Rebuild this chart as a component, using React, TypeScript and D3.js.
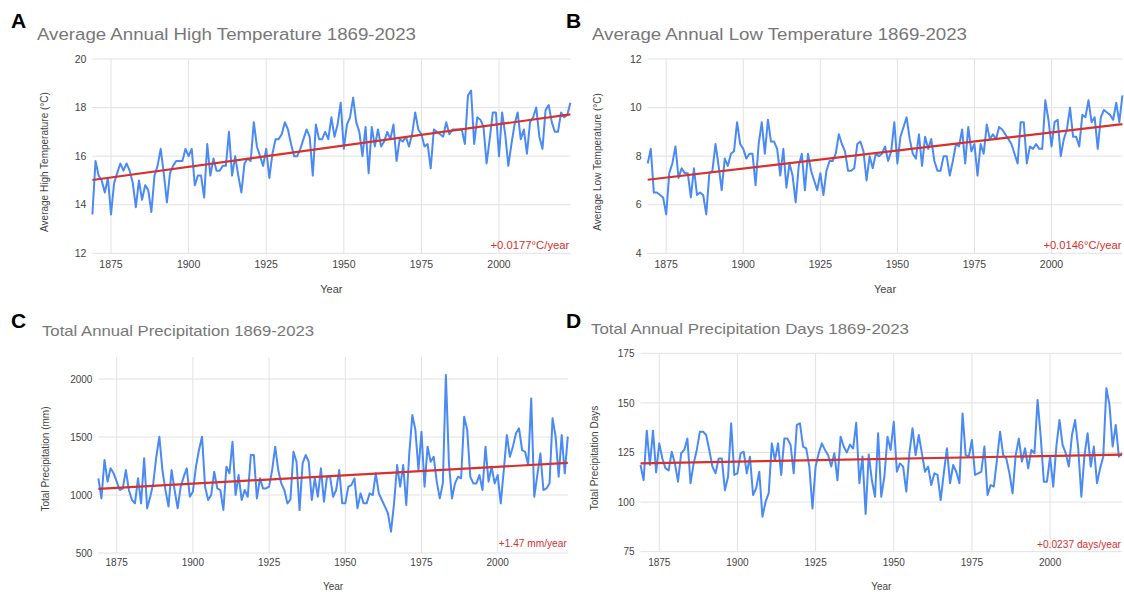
import React from 'react';
import * as d3 from 'd3';

// yearly series, 1869-2023
const years = d3.range(1869, 2024);

const highTemp = [
  13.6, 15.8, 15.2, 15.0, 14.5, 15.1, 13.6, 14.9, 15.3, 15.7,
  15.4, 15.7, 15.4, 14.9, 13.9, 15.0, 14.2, 14.8, 14.6, 13.7,
  15.2, 15.6, 16.3, 15.3, 14.1, 15.3, 15.6, 15.8, 15.8, 15.8,
  16.3, 16.0, 16.3, 14.8, 15.2, 15.2, 14.3, 16.5, 15.2, 15.9,
  15.4, 15.4, 15.6, 15.6, 17.0, 15.2, 16.0, 15.2, 14.5, 15.7,
  15.9, 15.8, 17.4, 16.4, 16.0, 15.6, 16.3, 15.1, 16.1, 16.7,
  16.7, 16.9, 17.4, 17.1, 16.5, 16.0, 16.0, 16.3, 16.7, 17.1,
  16.8, 15.2, 17.3, 16.7, 16.7, 17.0, 16.7, 17.6, 16.8, 17.3,
  18.2, 16.3, 17.3, 17.6, 18.4, 17.4, 17.0, 16.0, 17.2, 15.3,
  17.2, 16.4, 17.1, 16.4, 16.6, 17.0, 16.7, 17.3, 15.8, 16.7,
  16.6, 16.8, 16.4, 16.9, 17.8, 17.1, 16.9, 16.4, 16.5, 15.5,
  17.1, 17.0, 16.9, 16.8, 17.4, 16.9, 17.1, 17.1, 17.1, 17.1,
  16.5, 18.5, 18.7, 16.5, 17.6, 17.5, 17.2, 15.7, 16.7, 17.8,
  17.8, 16.0, 17.8, 16.9, 15.6, 16.5, 17.3, 17.8, 16.7, 17.1,
  16.1, 17.4, 17.6, 18.0, 16.8, 16.3, 17.9, 18.1, 17.4, 17.0,
  17.0, 17.8, 17.6, 17.7, 18.2,
];

const lowTemp = [
  7.7, 8.3, 6.5, 6.5, 6.4, 6.3, 5.6, 7.3, 7.7, 8.4,
  7.1, 7.5, 7.3, 7.3, 6.3, 7.5, 6.4, 6.5, 6.4, 5.6,
  7.3, 7.4, 8.5, 7.6, 6.6, 7.9, 7.6, 8.1, 8.2, 9.4,
  8.5, 8.3, 7.9, 8.1, 8.1, 6.8, 8.5, 9.4, 8.1, 9.5,
  8.6, 8.6, 8.3, 7.2, 8.3, 6.7, 7.7, 7.2, 6.1, 7.6,
  8.1, 6.6, 8.1, 7.4, 7.0, 6.6, 7.3, 6.4, 7.4, 7.8,
  7.8, 8.1, 8.9, 8.5, 8.2, 7.4, 7.4, 7.5, 8.5, 8.6,
  8.2, 7.0, 8.0, 7.5, 8.1, 8.0, 8.1, 8.4, 7.8, 8.2,
  9.4, 7.7, 8.8, 9.2, 9.6, 8.7, 8.1, 7.9, 8.9, 7.6,
  8.8, 8.3, 8.7, 7.8, 7.4, 7.4, 8.0, 8.0, 7.2, 7.8,
  8.5, 8.4, 9.1, 7.7, 9.2, 8.2, 8.5, 7.2, 8.5, 8.1,
  9.3, 8.7, 8.9, 8.7, 9.2, 9.1, 8.9, 8.7, 8.5, 8.1,
  7.7, 9.4, 9.4, 7.7, 8.4, 8.3, 8.5, 8.3, 8.3, 10.3,
  9.5, 8.4, 9.4, 9.5, 8.0, 8.7, 9.1, 10.0, 8.8, 8.8,
  8.4, 9.7, 9.6, 10.3, 9.4, 9.6, 8.3, 9.6, 9.9, 9.8,
  9.7, 9.5, 10.2, 9.4, 10.5,
];

const precip = [
  1144, 971, 1302, 1115, 1230, 1187, 1115, 1043, 1057, 1215,
  1043, 957, 928, 1144, 928, 1316, 885, 985, 1100, 1330,
  1503, 1215, 1043, 900, 1215, 1043, 885, 1072, 1158, 1230,
  985, 1029, 1244, 1388, 1503, 1072, 957, 1000, 1201, 1057,
  1043, 871, 1244, 1187, 1460, 1000, 1172, 957, 1043, 985,
  1345, 1345, 971, 1144, 1057, 1057, 1072, 1215, 1417, 1215,
  1100, 1043, 928, 960, 1373, 1287, 870, 1273, 1345, 1287,
  957, 1144, 985, 1230, 942, 1158, 1158, 985, 1043, 1215,
  928, 928, 1072, 1086, 1144, 885, 1014, 928, 928, 1014,
  1000, 1187, 1014, 957, 900, 842, 684, 928, 1258, 1072,
  1258, 914, 1359, 1690, 1560, 1215, 1546, 1072, 1417, 1287,
  1330, 1115, 971, 1100, 2034, 1273, 971, 1100, 1158, 1144,
  1675, 1560, 1158, 1100, 1100, 1172, 1043, 1417, 1115, 1244,
  1100, 1172, 928, 1215, 1517, 1330, 1417, 1532, 1575, 1388,
  1373, 1258, 1833, 985, 1172, 1359, 1043, 1057, 1100, 1661,
  1503, 1158, 1517, 1187, 1503,
];

const precipDays = [
  118.7, 111, 136, 118.7, 136, 115, 129.6, 122, 117, 116,
  125.4, 119.5, 110.3, 124.6, 126.3, 132, 109.5, 119.5, 126.3, 135.5,
  135.5, 133.8, 126.3, 117.9, 114.5, 122, 122, 106, 112.8, 139.7,
  113.7, 114.5, 124.6, 125.4, 114.5, 122.9, 103.6, 107, 115.3, 92.6,
  100.2, 104.4, 129.6, 121.2, 129.6, 113.7, 132, 132, 128.8, 114.5,
  138.9, 139.7, 128, 127.1, 117.9, 96.8, 117.9, 124.6, 129.6, 126.3,
  123.7, 117.9, 124.6, 111, 133, 128, 125, 129, 127, 140,
  109.5, 123, 94, 124, 111, 102.7, 134.7, 102.7, 112.8, 133,
  126.3, 140.5, 115.3, 119.5, 117.9, 105.3, 124.6, 137.2, 123.7, 133.8,
  124.6, 115.3, 117.9, 108.6, 114.5, 113.7, 101, 114.5, 127.1, 109.5,
  118.7, 115.3, 109.5, 144.7, 123.7, 122.9, 131.3, 113.7, 114.5, 115.3,
  128, 103.6, 108.6, 107.8, 121.2, 135.5, 123.7, 122, 114.5, 104.4,
  123.7, 132, 120.4, 127.1, 117, 126.3, 124.6, 151.5, 133, 110.3,
  110.3, 122.9, 107.8, 128, 141.4, 128.8, 124.6, 117.9, 133.8, 141.4,
  127.1, 102.7, 123.7, 134.7, 117.9, 128, 109.5, 117, 122.9, 157.4,
  149, 128, 138.9, 122.9, 124.6,
];

const yearTicks = [1875, 1900, 1925, 1950, 1975, 2000];
const highTicks = [12, 14, 16, 18, 20];
const lowTicks = [4, 6, 8, 10, 12];
const precipTicks = [500, 1000, 1500, 2000];
const daysTicks = [75, 100, 125, 150, 175];

const FONT = '"Liberation Sans", Arial, sans-serif';
const BLUE = '#4a8af4';
const RED = '#d8302c';
const GRID = '#e2e2e2';

// least squares fit, gives [intercept, slope]
function fitLine(xs, ys) {
  const mx = d3.mean(xs), my = d3.mean(ys);
  let num = 0, den = 0;
  xs.forEach((xv, i) => {
    num += (xv - mx) * (ys[i] - my);
    den += (xv - mx) * (xv - mx);
  });
  const b = num / den;
  return [my - b * mx, b];
}

const panels = [
  {
    letter: 'A', letterX: 11, letterY: 28,
    title: 'Average Annual High Temperature 1869-2023', titleX: 37, titleY: 40, titleSize: 16, titleLen: 379,
    yTitle: 'Average High Temperature (°C)', yTitleX: 45, yTitleY: 162,
    trend: '+0.0177°C/year', trendY: 249, trendSize: 11, trendLen: 79,
    values: highTemp, ticks: highTicks, domain: [12, 20],
    left: 92.4, right: 570.4, top: 59, bottom: 253.3,
    tickSize: 10.5, tickY: 268, yearY: 293, labelSize: 11,
  },
  {
    letter: 'B', letterX: 566, letterY: 28,
    title: 'Average Annual Low Temperature 1869-2023', titleX: 592, titleY: 40, titleSize: 16, titleLen: 375,
    yTitle: 'Average Low Temperature (°C)', yTitleX: 598, yTitleY: 162,
    trend: '+0.0146°C/year', trendY: 249, trendSize: 11, trendLen: 78,
    values: lowTemp, ticks: lowTicks, domain: [4, 12],
    left: 647.7, right: 1122.4, top: 59, bottom: 253.3,
    tickSize: 10.5, tickY: 268, yearY: 293, labelSize: 11,
  },
  {
    letter: 'C', letterX: 11, letterY: 328,
    title: 'Total Annual Precipitation 1869-2023', titleX: 42, titleY: 336, titleSize: 15, titleLen: 272,
    yTitle: 'Total Precipitation (mm)', yTitleX: 46.5, yTitleY: 459,
    trend: '+1.47 mm/year', trendY: 547, trendSize: 10, trendLen: 68,
    values: precip, ticks: precipTicks, domain: [500, 2190],
    left: 98.4, right: 567.8, top: 357, bottom: 553,
    tickSize: 10, tickY: 566, yearY: 590, labelSize: 10,
  },
  {
    letter: 'D', letterX: 566, letterY: 328,
    title: 'Total Annual Precipitation Days 1869-2023', titleX: 591, titleY: 334, titleSize: 14.5, titleLen: 318,
    yTitle: 'Total Precipitation Days', yTitleX: 595.5, yTitleY: 458,
    trend: '+0.0237 days/year', trendY: 548, trendSize: 10, trendLen: 84,
    values: precipDays, ticks: daysTicks, domain: [75, 175],
    left: 640.5, right: 1122, top: 353.3, bottom: 551.7,
    tickSize: 10, tickY: 566, yearY: 590, labelSize: 10,
  },
];

function Panel({ p }) {
  const x = d3.scaleLinear().domain([1869, 2023]).range([p.left, p.right]);
  const y = d3.scaleLinear().domain(p.domain).range([p.bottom, p.top]);
  const line = d3.line().x((d, i) => x(years[i])).y(d => y(d));
  const [a, b] = fitLine(years, p.values);
  const ends = [1869, 2023];

  return (
    <g fontFamily={FONT}>
      <text x={p.letterX} y={p.letterY} fontSize={21} fontWeight="bold" fill="#000">{p.letter}</text>
      <text x={p.titleX} y={p.titleY} fontSize={p.titleSize} fill="#777"
        textLength={p.titleLen} lengthAdjust="spacingAndGlyphs">{p.title}</text>

      {p.ticks.map(t => (
        <g key={'h' + t}>
          <line x1={p.left} x2={p.right} y1={y(t)} y2={y(t)} stroke={GRID} />
          <text x={p.left - 6} y={y(t) + 3.6} fontSize={p.tickSize} fill="#444" textAnchor="end">{t}</text>
        </g>
      ))}
      {yearTicks.map(t => (
        <g key={'v' + t}>
          <line x1={x(t)} x2={x(t)} y1={p.top} y2={p.bottom} stroke={GRID} />
          <text x={x(t)} y={p.tickY} fontSize={p.tickSize} fill="#444" textAnchor="middle">{t}</text>
        </g>
      ))}

      <path d={line(p.values)} fill="none" stroke={BLUE} strokeWidth={2} strokeLinejoin="round" />
      <line x1={x(ends[0])} y1={y(a + b * ends[0])} x2={x(ends[1])} y2={y(a + b * ends[1])}
        stroke={RED} strokeWidth={2.2} />

      <text x={p.right - 1} y={p.trendY} fontSize={p.trendSize} fill={RED} textAnchor="end"
        textLength={p.trendLen} lengthAdjust="spacingAndGlyphs">{p.trend}</text>
      <text x={(p.left + p.right) / 2} y={p.yearY} fontSize={p.labelSize} fill="#444" textAnchor="middle">Year</text>
      <text transform={`translate(${p.yTitleX},${p.yTitleY}) rotate(-90)`} fontSize={10} fill="#444"
        textAnchor="middle" dominantBaseline="middle">{p.yTitle}</text>
    </g>
  );
}

export default function App() {
  return (
    <svg width={1124} height={592} style={{ position: 'absolute', left: 0, top: 0, background: '#fff' }}>
      {panels.map(p => <Panel key={p.letter} p={p} />)}
    </svg>
  );
}
